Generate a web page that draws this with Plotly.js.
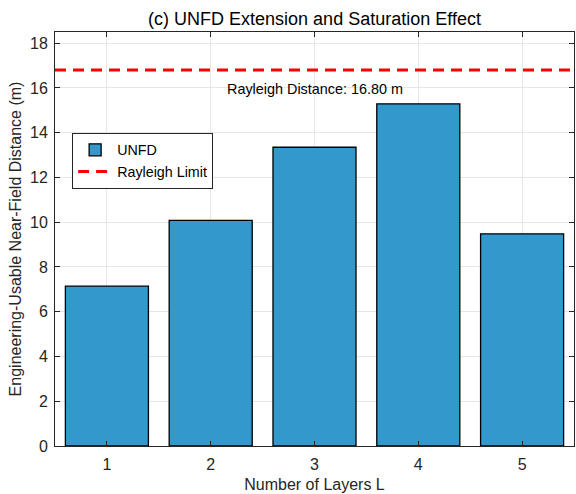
<!DOCTYPE html>
<html>
<head>
<meta charset="utf-8">
<script src="https://cdn.plot.ly/plotly-3.0.1.min.js"></script>
<style>html,body{margin:0;padding:0;background:#fff;}#chart{width:576px;height:494px;}</style>
</head>
<body>
<div id="chart"></div>
<script>
const layers = [1, 2, 3, 4, 5];
const unfd = [7.14, 10.08, 13.35, 15.29, 9.48];
const rayleighDistance = 16.80;
const xRange = [0.5, 5.5];
const yRange = [0, 18.5];
const yTicks = [0, 2, 4, 6, 8, 10, 12, 14, 16, 18];

const font = "Liberation Sans, Arial, Helvetica, sans-serif";
const axisColor = "#262626";

const traces = [
  {
    type: "bar",
    name: "UNFD",
    x: layers,
    y: unfd,
    width: 0.8,
    marker: {color: "rgb(51,153,204)", line: {color: "#000000", width: 1.3}},
    hoverinfo: "x+y"
  },
  {
    type: "scatter",
    mode: "lines",
    name: "Rayleigh Limit",
    x: xRange,
    y: [rayleighDistance, rayleighDistance],
    line: {color: "rgb(255,0,0)", width: 3, dash: "11px,7px"}
  }
];

const layout = {
  width: 576,
  height: 494,
  margin: {l: 55, r: 2, t: 32, b: 48},
  paper_bgcolor: "#ffffff",
  plot_bgcolor: "#ffffff",
  font: {family: font, size: 14, color: axisColor},
  title: {
    text: "(c) UNFD Extension and Saturation Effect",
    font: {family: font, size: 18, color: "#000000"},
    xref: "paper", x: 0.5, xanchor: "center", y: 0.963, yanchor: "middle"
  },
  bargap: 0.2,
  showlegend: true,
  legend: {
    x: 0.033, y: 0.756, xanchor: "left", yanchor: "top",
    bgcolor: "#ffffff", bordercolor: axisColor, borderwidth: 1,
    font: {family: font, size: 14.3, color: "#000000"},
    tracegroupgap: 0, itemwidth: 34
  },
  xaxis: {
    range: xRange,
    tickvals: layers,
    ticktext: layers.map(String),
    ticks: "inside", ticklen: 5, tickcolor: axisColor,
    showline: true, linecolor: axisColor, linewidth: 1, mirror: "ticks",
    showgrid: true, gridcolor: "#e6e6e6", gridwidth: 1,
    zeroline: false,
    ticklabelstandoff: 4,
    tickfont: {family: font, size: 16, color: axisColor},
    title: {text: "Number of Layers L", font: {family: font, size: 16, color: axisColor}, standoff: 6}
  },
  yaxis: {
    range: yRange,
    tickvals: yTicks,
    ticks: "inside", ticklen: 5, tickcolor: axisColor,
    showline: true, linecolor: axisColor, linewidth: 1, mirror: "ticks",
    showgrid: true, gridcolor: "#e6e6e6", gridwidth: 1,
    zeroline: false,
    ticklabelstandoff: 3,
    tickfont: {family: font, size: 16, color: axisColor},
    title: {text: "Engineering-Usable Near-Field Distance (m)", font: {family: font, size: 16, color: axisColor}, standoff: 4}
  },
  annotations: [
    {
      x: 3, y: rayleighDistance * 0.95, xref: "x", yref: "y",
      text: "Rayleigh Distance: " + rayleighDistance.toFixed(2) + " m",
      showarrow: false, xanchor: "center", yanchor: "middle",
      font: {family: font, size: 14.4, color: "#000000"}
    }
  ]
};

Plotly.newPlot("chart", traces, layout, {displayModeBar: false, staticPlot: true});
</script>
</body>
</html>
